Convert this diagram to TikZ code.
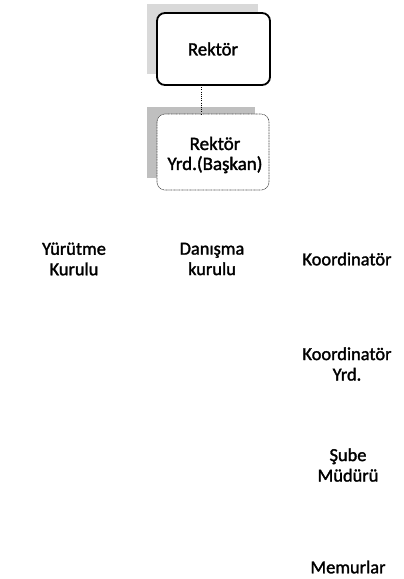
\documentclass[tikz,border=0pt]{standalone}
\usepackage{fontspec}
\setmainfont{Carlito}[FakeBold=1.6]
\newlength\mwA
\newlength\mwB
\newlength\mwC
\begin{document}
\settowidth\mwA{\fontsize{10}{12}\selectfont Koordinatör}%
\settowidth\mwB{\fontsize{10}{12}\selectfont Yrd.(Başkan)}%
\settowidth\mwC{\fontsize{10}{12}\selectfont Rektör}%
\pgfmathsetmacro\fsA{10*89/\mwA}%
\pgfmathsetmacro\fsB{10*95/\mwB}%
\pgfmathsetmacro\fsC{10*50/\mwC}%
\begin{tikzpicture}[x=1pt,y=-1pt,
  lbl/.style={font=\fontsize{\fsA pt}{20.5pt}\selectfont, align=center, inner sep=0pt},
  lblB/.style={font=\fontsize{\fsB pt}{20pt}\selectfont, align=center, inner sep=0pt},
  lblC/.style={font=\fontsize{\fsC pt}{22pt}\selectfont, align=center, inner sep=0pt},
  shadowA/.style={fill=gray!30, draw=none},
  shadowB/.style={fill=gray!50, draw=none},
  boxA/.style={draw=black, line width=1.8pt, rounded corners=8pt, fill=white},
  boxB/.style={draw=gray!60!black, line width=0.6pt, dash pattern=on 1pt off 0.6pt, rounded corners=8pt, fill=white},
  link/.style={draw=black, line width=0.8pt, dash pattern=on 1pt off 1.2pt}]
\useasboundingbox (0,0) rectangle (404,579);
% shadows
\fill[shadowA] (147,4) rectangle (258,74);
\fill[shadowB] (147,107) rectangle (255,178);
% boxes
\draw[boxA] (157,13) rectangle (270,85);
\draw[boxB] (157,114) rectangle (269,190);
\node[lblC] (rek) at (213,49) {Rektör};
\node[lblB] (yrd) at (215,155) {Rektör\\Yrd.(Başkan)};
\coordinate (b1) at (201,85);
\coordinate (b2) at (201,114);
\draw[link] (b1) -- (b2);
\node[lbl] (yur) at (74,259) {Yürütme\\Kurulu};
\node[lbl] (dan) at (212,259) {Danışma\\kurulu};
\node[lbl] (koo) at (347,259) {Koordinatör};
\node[lbl] (kyr) at (347,364) {Koordinatör\\Yrd.};
\node[lbl] (sub) at (348,465) {Şube\\Müdürü};
\node[lbl] (mem) at (348,567) {Memurlar};
\end{tikzpicture}
\end{document}
